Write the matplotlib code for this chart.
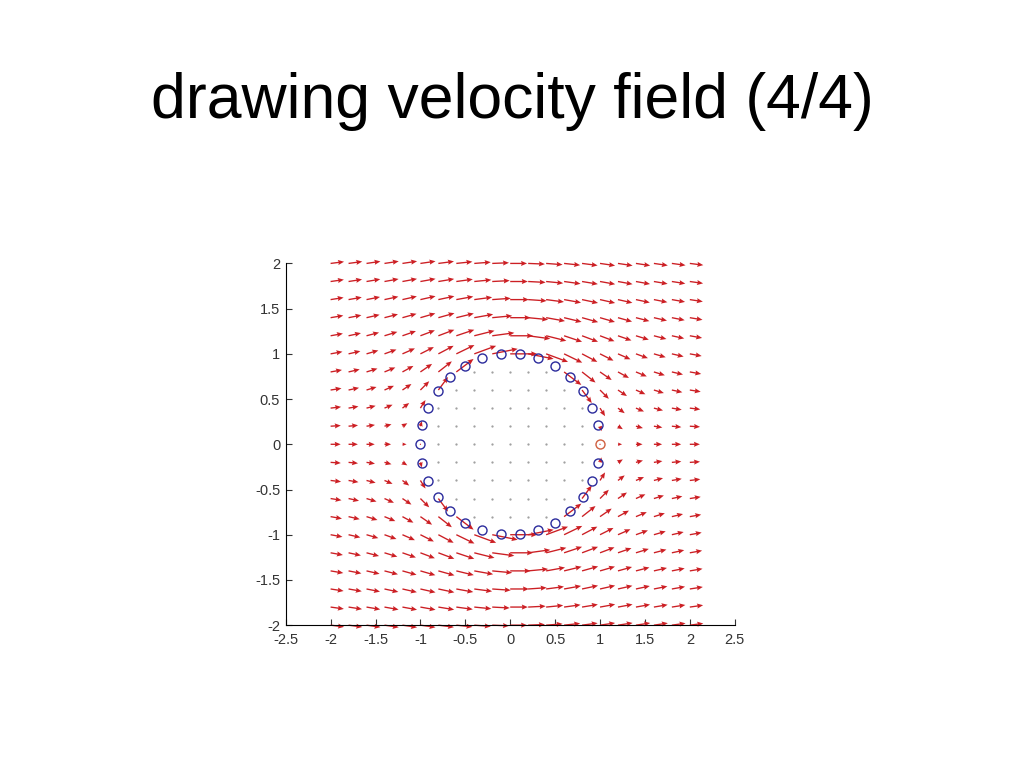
import numpy as np
import matplotlib
matplotlib.use("Agg")
import matplotlib.pyplot as plt

# slide title
title_text = "drawing velocity field (4/4)"

# flow parameters (uniform flow past a unit cylinder)
U_inf = 1.0
radius = 1.0

# grid of sample points
grid_x = np.linspace(-2.0, 2.0, 21)
grid_y = np.linspace(-2.0, 2.0, 21)

# points on the cylinder surface
n_surface = 30

# axis ticks
x_ticks = [-2.5, -2, -1.5, -1, -0.5, 0, 0.5, 1, 1.5, 2, 2.5]
y_ticks = [-2, -1.5, -1, -0.5, 0, 0.5, 1, 1.5, 2]
x_tick_labels = ["-2.5", "-2", "-1.5", "-1", "-0.5", "0", "0.5", "1", "1.5", "2", "2.5"]
y_tick_labels = ["-2", "-1.5", "-1", "-0.5", "0", "0.5", "1", "1.5", "2"]

# velocity field
X, Y = np.meshgrid(grid_x, grid_y)
R2 = X**2 + Y**2
R4 = R2**2
U = U_inf * (1 - radius**2 * (X**2 - Y**2) / R4)
V = -U_inf * radius**2 * 2 * X * Y / R4
inside = np.round(R2, 6) < radius**2
U[inside] = 0.0
V[inside] = 0.0

theta = np.arange(n_surface) * 2 * np.pi / n_surface
cx = radius * np.cos(theta)
cy = radius * np.sin(theta)

plt.rcParams["font.family"] = ["Liberation Sans", "DejaVu Sans"]
fig = plt.figure(figsize=(10.24, 7.68), dpi=100)
fig.text(0.5, 1 - 118 / 768, title_text, ha="center", va="baseline", fontsize=45)

ax = fig.add_axes([0.279, 0.186, 0.4385, 0.471])
outside = ~inside
q = ax.quiver(X[outside], Y[outside], U[outside], V[outside],
              color="#cc1f24", angles="xy", scale_units="xy", scale=1 / 0.15,
              width=0.003, headwidth=3.8, headlength=4.5, headaxislength=4,
              zorder=2)
q.set_clip_on(False)
ax.plot(X[inside], Y[inside], linestyle="none", marker=".", markersize=1.2,
        color="#999999", zorder=1)
ax.plot(cx[1:], cy[1:], linestyle="none", marker="o", markersize=6.5,
        markerfacecolor="none", markeredgecolor="#2b2b9c", markeredgewidth=1.0,
        zorder=3)
ax.plot(cx[:1], cy[:1], linestyle="none", marker="o", markersize=6.5,
        markerfacecolor="none", markeredgecolor="#d06040", markeredgewidth=1.0,
        zorder=3)

ax.set_xlim(-2.5, 2.5)
ax.set_ylim(-2, 2)
ax.set_xticks(x_ticks)
ax.set_xticklabels(x_tick_labels)
ax.set_yticks(y_ticks)
ax.set_yticklabels(y_tick_labels)
ax.tick_params(direction="in", length=4, labelsize=10.5, colors="#333333")
ax.tick_params(axis="x", pad=6)
ax.tick_params(axis="y", pad=4)
ax.spines["top"].set_visible(False)
ax.spines["right"].set_visible(False)
ax.spines["left"].set_linewidth(0.8)
ax.spines["bottom"].set_linewidth(0.8)

fig.savefig("out.png", dpi=100)
